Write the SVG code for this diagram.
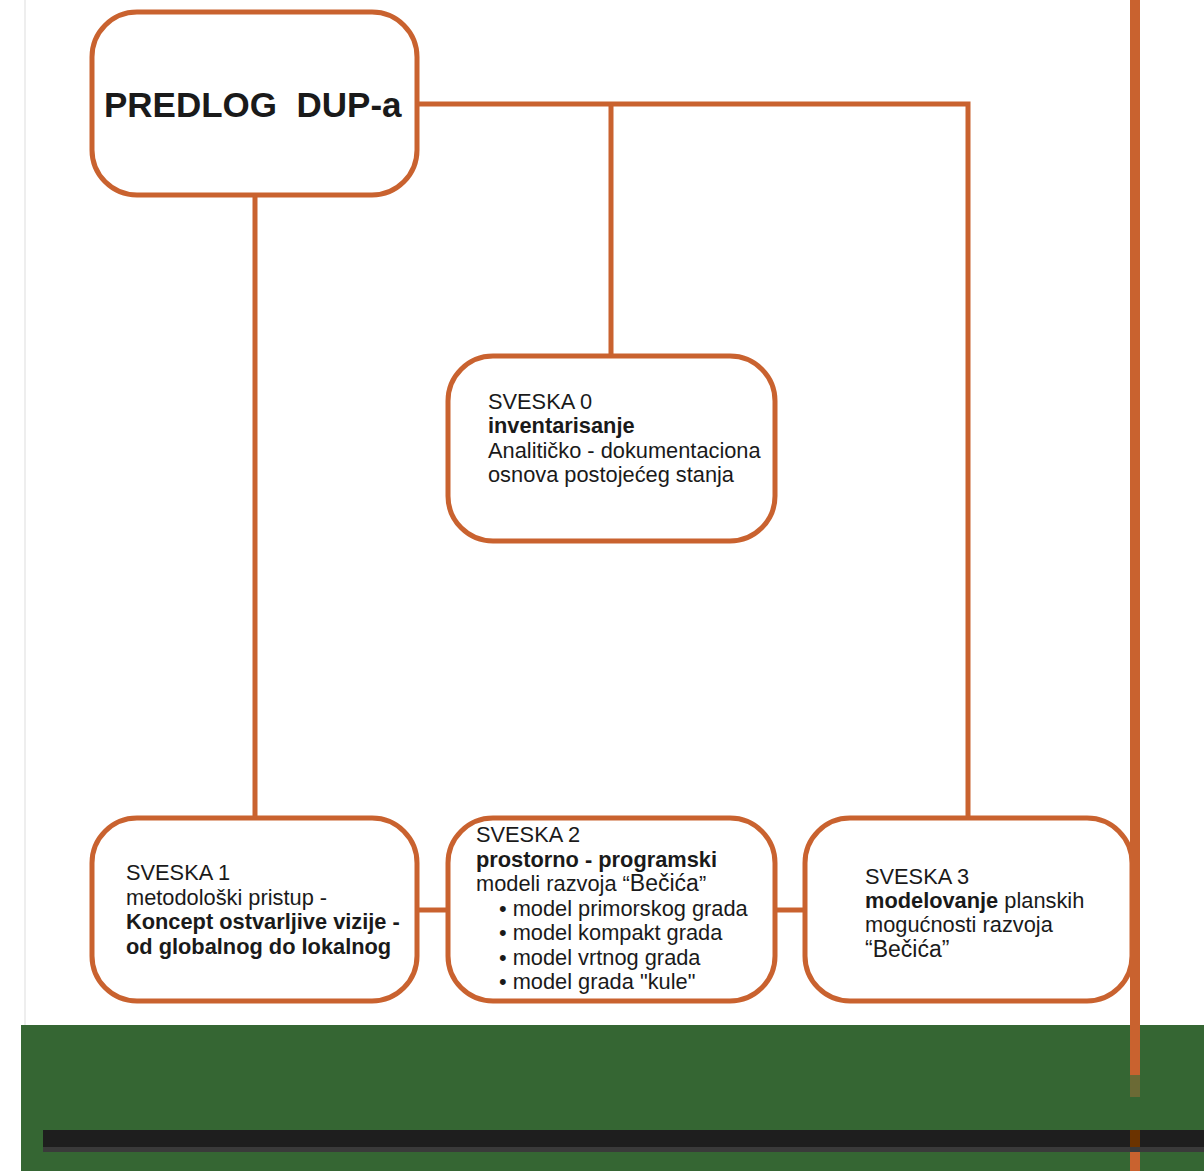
<svg xmlns="http://www.w3.org/2000/svg" width="1204" height="1171" viewBox="0 0 1204 1171">
<style>
.box{fill:#fff;stroke:#c9622f;stroke-width:5}
.ln{fill:none;stroke:#c9622f;stroke-width:5}
text{font-family:"Liberation Sans",Arial,sans-serif;fill:#1a1a1a;font-size:21.8px}
.b{font-weight:bold}
</style>
<rect x="0" y="0" width="1204" height="1171" fill="#fff"/>
<line x1="25" y1="0" x2="25" y2="1025" stroke="#dddddd" stroke-width="1"/>
<g id="connectors">
<path class="ln" d="M417 104 H968 V818"/>
<path class="ln" d="M611 104 V356"/>
<path class="ln" d="M255 195 V818"/>
<path class="ln" d="M417 910 H448"/>
<path class="ln" d="M775 910 H805"/>
</g>
<g id="predlog">
<rect class="box" x="92" y="12" width="325" height="183" rx="45"/>
<text x="104" y="117" class="b" style="font-size:35px;white-space:pre" xml:space="preserve">PREDLOG  DUP-a</text>
</g>
<g id="sveska0">
<rect class="box" x="448" y="356" width="327" height="185" rx="45"/>
<text x="488" y="409">SVESKA 0</text>
<text x="488" y="433" class="b">inventarisanje</text>
<text x="488" y="458">Analitičko - dokumentaciona</text>
<text x="488" y="482">osnova postojećeg stanja</text>
</g>
<g id="sveska1">
<rect class="box" x="92" y="818" width="325" height="183" rx="45"/>
<text x="126" y="880">SVESKA 1</text>
<text x="126" y="905">metodološki pristup -</text>
<text x="126" y="929" class="b">Koncept ostvarljive vizije -</text>
<text x="126" y="954" class="b">od globalnog do lokalnog</text>
</g>
<g id="sveska2">
<rect class="box" x="448" y="818" width="327" height="183" rx="45"/>
<text x="476" y="842">SVESKA 2</text>
<text x="476" y="867" class="b">prostorno - programski</text>
<text x="476" y="891">modeli razvoja “<tspan style="font-size:23px">Bečića</tspan>”</text>
<text x="499" y="916">• model primorskog grada</text>
<text x="499" y="940">• model kompakt grada</text>
<text x="499" y="965">• model vrtnog grada</text>
<text x="499" y="989">• model grada "kule"</text>
</g>
<g id="sveska3">
<rect class="box" x="805" y="818" width="327" height="183" rx="45"/>
<text x="865" y="884">SVESKA 3</text>
<text x="865" y="908"><tspan class="b">modelovanje</tspan> planskih</text>
<text x="865" y="932">mogućnosti razvoja</text>
<text x="865" y="957" style="font-size:23px">“Bečića”</text>
</g>
<rect x="21" y="1025" width="1183" height="146" fill="#356633"/>
<rect x="43" y="1130" width="1161" height="22" fill="#1e1e1e"/>
<rect x="43" y="1147" width="1161" height="5" fill="#3a3a3a"/>
<rect x="1130" y="0" width="10" height="1075" fill="#c9622f"/>
<rect x="1130" y="1075" width="10" height="22" fill="#6b6a35"/>
<rect x="1130" y="1130" width="10" height="17" fill="#6b3300"/>
<rect x="1130" y="1152" width="10" height="19" fill="#c9622f"/>
</svg>
